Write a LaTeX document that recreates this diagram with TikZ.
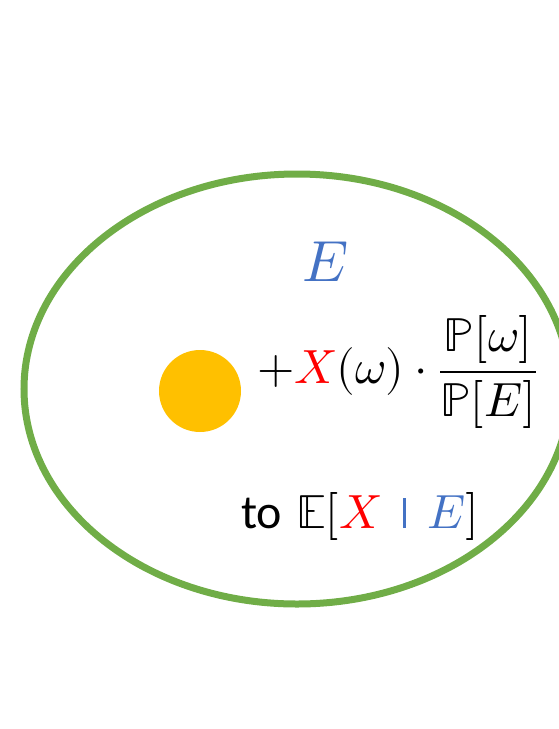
\documentclass[tikz,border=0pt]{standalone}
\usepackage{amsmath}
\usepackage{fontspec}
\usepackage{unicode-math}
\setmathfont{Latin Modern Math}
\newfontfamily\tofont{Carlito}
\definecolor{setgreen}{RGB}{112, 173, 71}
\definecolor{ptorange}{RGB}{255, 192, 0}
\definecolor{evblue}{RGB}{68, 114, 196}
\definecolor{rvred}{RGB}{255, 0, 0}
\usetikzlibrary{positioning}
\newcommand{\givenbar}{\mathrel{\mkern3mu\textcolor{evblue}{\rule{3.2pt}{30pt}}\mkern3mu}}

\begin{document}
\begin{tikzpicture}[
  x=1pt, y=-1pt,
  evset/.style={draw=setgreen, line width=7pt},
  outcome/.style={circle, fill=ptorange, minimum size=82pt, inner sep=0pt},
  bigtxt/.style={inner sep=0pt, font=\fontsize{48}{58}\selectfont}
]
  \useasboundingbox (0,0) rectangle (559,729);
  \clip (0,0) rectangle (559,729);
  \draw[evset] (297,389) ellipse [x radius=273pt, y radius=215pt];
  \node[outcome] (omega) at (200,391) {};
  \node[bigtxt, font=\fontsize{58}{66}\selectfont] (elabel) at (325,262) {$\color{evblue}E$};
  \node[bigtxt] (term) at (397,372)
    {$+{\color{rvred}X}(\omega)\cdot\dfrac{\mathbb{P}[\omega]}{\mathbb{P}[E]}$};
  \node[bigtxt] (goal) at (360,516)
    {{\tofont to} $\mathbb{E}[{\color{rvred}X}\givenbar{\color{evblue}E}]$};
\end{tikzpicture}
\end{document}
